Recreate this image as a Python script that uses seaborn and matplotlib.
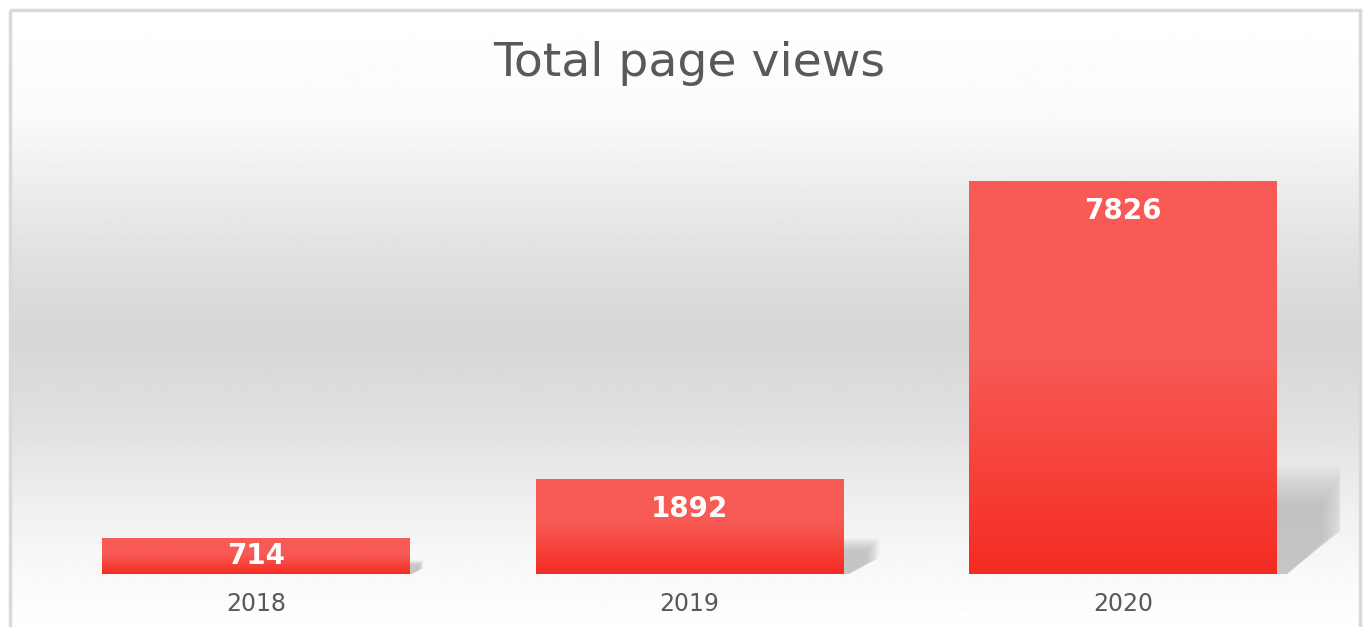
import numpy as np
import pandas as pd
import seaborn as sns
import matplotlib.pyplot as plt
from matplotlib.patches import Rectangle, Polygon
from matplotlib.colors import to_rgb

years = ["2018", "2019", "2020"]
views = [714, 1892, 7826]

TEXT = "#595959"
BAR_TOP = "#F85A55"
BAR_BOTTOM = "#F42B22"
W, H, DPI = 1371, 627, 100

sns.set_theme(style="white")
plt.rcParams["font.family"] = ["DejaVu Sans"]

fig = plt.figure(figsize=(W / DPI, H / DPI), dpi=DPI)
fig.patch.set_facecolor("white")

# background panel with vertical grey gradient
bg = fig.add_axes([0, 0, 1, 1], zorder=-1)
bg.set_xlim(0, W)
bg.set_ylim(H, 0)
bg.axis("off")
rows = np.arange(H)
stops_y = [0, 100, 250, 330, 420, 520, 600, H]
stops_v = [1.0, 0.985, 0.88, 0.84, 0.88, 0.95, 0.99, 0.995]
shade = np.interp(rows, stops_y, stops_v)
grad = np.repeat(shade[:, None], 2, axis=1)
bg.imshow(grad, cmap="gray", vmin=0, vmax=1, extent=[10, 1360, H, 10],
          aspect="auto", interpolation="bilinear")
bg.add_patch(Rectangle((10, 10), 1350, H, fill=False, ec="#D9D9D9", lw=2.5))

# main axes
ax_bottom, ax_top = 574, 110
ax = fig.add_axes([39 / W, (H - ax_bottom) / H, 1301 / W, (ax_bottom - ax_top) / H])
ax.set_facecolor("none")
ymax = max(views) * (ax_bottom - ax_top) / 393
df = pd.DataFrame({"year": years, "views": views})
sns.barplot(data=df, x="year", y="views", color=BAR_TOP, width=0.71, ax=ax, zorder=3)
ax.set_xlim(-0.5, 2.5)
ax.set_ylim(0, ymax)

px_x = 3 / 1301
px_y = ymax / (ax_bottom - ax_top)

c_top = np.array(to_rgb(BAR_TOP))
c_bot = np.array(to_rgb(BAR_BOTTOM))
t = np.linspace(0, 1, 200)
mix = np.clip((t - 0.45) / 0.55, 0, 1)[:, None]
bar_grad = (c_top * (1 - mix) + c_bot * mix)[:, None, :]

for patch, v in zip(ax.patches, views):
    x0, w = patch.get_x(), patch.get_width()
    patch.set_facecolor("none")
    patch.set_edgecolor("none")
    im = ax.imshow(bar_grad, extent=[x0, x0 + w, 0, v], aspect="auto",
                   interpolation="bilinear", zorder=3)
    im.set_clip_path(patch)

    # soft shadow to the right, built from stacked translucent layers
    h_px = v / px_y
    hs = min(h_px * 0.35, 100)
    ext = min(hs, 65)
    right = x0 + w
    n = 12
    for k in range(n):
        s = 1.08 - k * 0.035
        pts = [
            (right, 0),
            (right, hs * s * px_y),
            (right + ext * s * px_x, hs * s * px_y),
            (right + ext * s * px_x, hs * s * 0.45 * px_y),
            (right + ext * 0.15 * px_x, 0),
        ]
        ax.add_patch(Polygon(pts, closed=True, fc="#A8A8A8", ec="none",
                             alpha=0.07, zorder=2))

    off_px = min(30, h_px / 2)
    ax.annotate(f"{v}", (x0 + w / 2, v), xytext=(0, -off_px * 72 / DPI),
                textcoords="offset points", ha="center", va="center",
                color="white", fontsize=20, fontweight="bold", zorder=5)

sns.despine(ax=ax, left=True, bottom=True)
ax.set_yticks([])
ax.set_xlabel("")
ax.set_ylabel("")
ax.tick_params(axis="x", length=0, pad=13, labelsize=17, colors=TEXT)

fig.text(689 / W, 1 - 63 / H, "Total page views", ha="center", va="center",
         fontsize=34, color=TEXT)

fig.savefig("out.png", dpi=DPI)
